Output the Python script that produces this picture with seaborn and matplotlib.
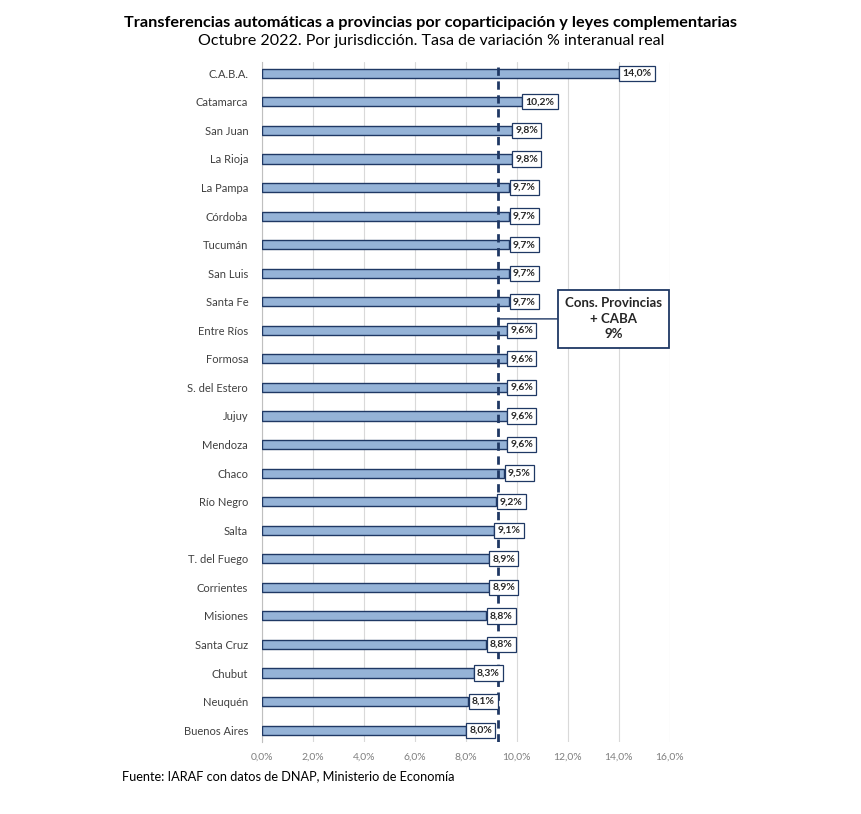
import numpy as np
import pandas as pd
import seaborn as sns
import matplotlib.pyplot as plt

# Data
provincias = ["C.A.B.A.", "Catamarca", "San Juan", "La Rioja", "La Pampa", "Córdoba",
              "Tucumán", "San Luis", "Santa Fe", "Entre Ríos", "Formosa", "S. del Estero",
              "Jujuy", "Mendoza", "Chaco", "Río Negro", "Salta", "T. del Fuego",
              "Corrientes", "Misiones", "Santa Cruz", "Chubut", "Neuquén", "Buenos Aires"]
variacion = [14.0, 10.2, 9.8, 9.8, 9.7, 9.7, 9.7, 9.7, 9.7, 9.6, 9.6, 9.6,
             9.6, 9.6, 9.5, 9.2, 9.1, 8.9, 8.9, 8.8, 8.8, 8.3, 8.1, 8.0]
promedio = 9.25
xticks = [0, 2, 4, 6, 8, 10, 12, 14, 16]

df = pd.DataFrame({"provincia": provincias, "variacion": variacion})

sns.set_style("white")
plt.rcParams['font.family'] = ['Lato', 'DejaVu Sans']

fig = plt.figure(figsize=(8.62, 8.14), dpi=100)
ax = fig.add_axes([0.304, 0.089, 0.473, 0.835])

sns.barplot(data=df, x="variacion", y="provincia", orient="h", color="#95B3D7",
            edgecolor="#1F3864", linewidth=1.0, width=0.32, saturation=1, ax=ax, zorder=3)

ax.set_xlim(0, 16)
ax.set_ylim(len(provincias) - 0.6, -0.4)
ax.set_xticks(xticks)
ax.set_xticklabels([f"{t:.1f}%".replace(".", ",") for t in xticks], color="#7F7F7F", fontsize=7.5)
ax.tick_params(axis="y", labelsize=8, colors="#404040", length=0, pad=10)
ax.tick_params(axis="x", length=0, pad=8)
ax.set_xlabel("")
ax.set_ylabel("")
ax.grid(axis="x", color="#D9D9D9", linewidth=0.8, zorder=0)
for s in ["top", "right", "bottom"]:
    ax.spines[s].set_visible(False)
ax.spines["left"].set_color("#BFBFBF")

# value labels
for i, v in enumerate(variacion):
    ax.text(v + 0.14, i, f"{v:.1f}%".replace(".", ","), va="center", ha="left",
            fontsize=7.5, fontweight="bold", color="#262626", zorder=5,
            bbox=dict(boxstyle="square,pad=0.3", fc="white", ec="#1F3864", lw=0.9))

# average line
ax.axvline(promedio, color="#1F3864", linestyle=(0, (3, 2)), linewidth=2, zorder=4)

# callout
ax.annotate("Cons. Provincias\n+ CABA\n9%", xy=(promedio, 8.6), xytext=(13.8, 8.6),
            ha="center", va="center", multialignment="center", fontsize=9.5,
            fontweight="bold", color="#262626", linespacing=1.35,
            bbox=dict(boxstyle="square,pad=0.55", fc="white", ec="#1F3864", lw=1.3),
            arrowprops=dict(arrowstyle="-", color="#1F3864", lw=1.0,
                            shrinkA=0, shrinkB=0), zorder=2)

fig.text(0.5, 0.972, "Transferencias automáticas a provincias por coparticipación y leyes complementarias",
         ha="center", va="center", fontsize=11.7, fontweight="bold", color="black")
fig.text(0.5, 0.950, "Octubre 2022. Por jurisdicción. Tasa de variación % interanual real",
         ha="center", va="center", fontsize=11.5, color="black")
fig.text(0.142, 0.047, "Fuente: IARAF con datos de DNAP, Ministerio de Economía",
         ha="left", va="center", fontsize=9.2, color="black")

plt.savefig("out.png", dpi=100)
